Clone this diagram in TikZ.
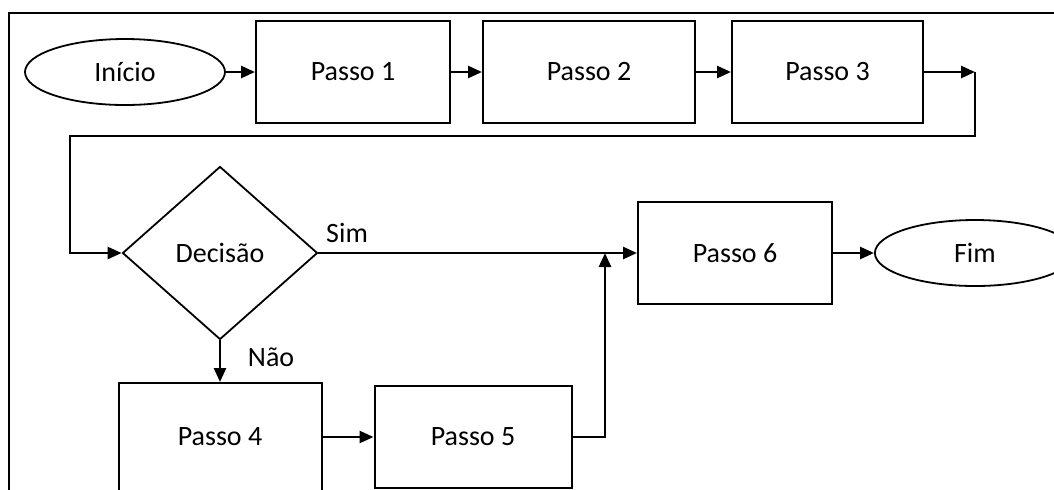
\documentclass[tikz,border=0pt]{standalone}
\usepackage{fontspec}
\setmainfont{Carlito}
\usetikzlibrary{positioning,arrows.meta,shapes.geometric}
\tikzset{
passo/.style={
draw,
line width=1pt,
minimum width=97pt,
minimum height=51pt,
inner sep=0pt,
align=center,
font=\fontsize{14}{17}\selectfont
},
terminal/.style={
draw,
ellipse,
line width=0.9pt,
minimum width=100pt,
minimum height=33pt,
inner sep=0pt,
font=\fontsize{14}{17}\selectfont
},
decisao/.style={
draw,
diamond,
line width=0.9pt,
minimum width=97.5pt,
minimum height=86.5pt,
inner sep=0pt,
font=\fontsize{14}{17}\selectfont
},
rotulo/.style={
font=\fontsize{14}{17}\selectfont
},
arrow/.style={
-{Triangle[length=7pt,width=6pt]},
line width=1.3pt
}
}
\begin{document}
\begin{tikzpicture}[x=0.5pt,y=-0.5pt]
\useasboundingbox (0,0) rectangle (1054,489);
\clip (0,0) rectangle (1054,489);
\draw[line width=1.2pt] (9,520) -- (9,13) -- (1080,13);

\node[terminal](ini) at (125,72){Início};
\node[passo](p1) at (353,72){Passo 1};
\node[passo,right=15.5pt of p1,minimum width=106pt](p2){Passo 2};
\node[passo,right=17.5pt of p2,minimum width=95.5pt](p3){Passo 3};
\coordinate (c1) at (975,72);
\coordinate (c2) at (70,136);

\node[decisao](dec) at (220,253){Decisão};
\node[passo](p6) at (735,253){Passo 6};
\node[terminal,right=20.5pt of p6](fim){Fim};
\coordinate (j) at (605,253);

\node[passo,minimum width=101.5pt,minimum height=54pt](p4) at (220,437){Passo 4};
\node[passo,right=25.5pt of p4,minimum width=98.5pt](p5){Passo 5};

\draw[arrow](ini)--(p1);
\foreach \x/\y in {p1/p2,p2/p3}
\draw[arrow](\x)--(\y);
\draw[arrow](p3)--(c1);
\draw[arrow](c1)|-(c2)|-(dec.west);
\draw[arrow](dec)--node[rotulo,pos=0.09,above=1pt]{Sim}(p6);
\draw[arrow](p6)--(fim);
\draw[arrow](dec)--node[rotulo,pos=0.4,right=10pt]{Não}(p4);
\draw[arrow](p4)--(p5);
\draw[arrow](p5.east)-|(j);
\end{tikzpicture}
\end{document}
